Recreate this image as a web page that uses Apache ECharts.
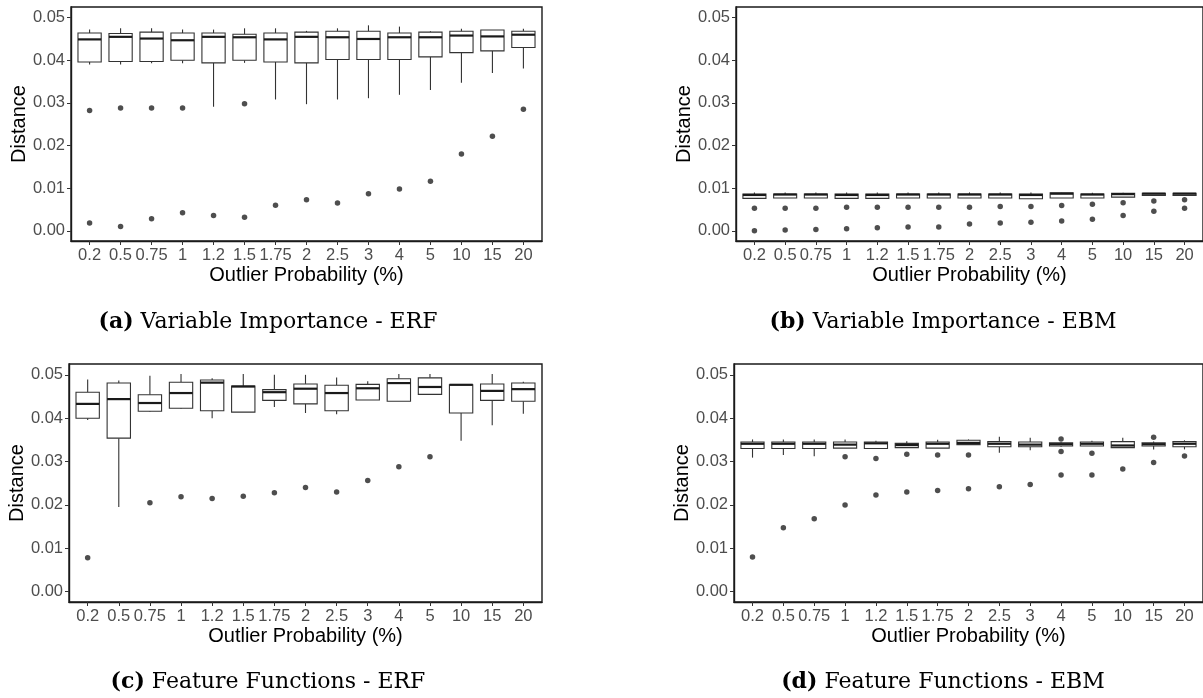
<!DOCTYPE html>
<html>
<head>
<meta charset="utf-8">
<script src="https://cdn.jsdelivr.net/npm/echarts@6/dist/echarts.min.js"></script>
<style>
html,body{margin:0;padding:0;background:#fff;}
#c{width:1203px;height:698px;}
</style>
</head>
<body>
<div id="c"></div>
<script>
const categories = ['0.2','0.5','0.75','1','1.2','1.5','1.75','2','2.5','3','4','5','10','15','20'];
const yTicks = [0, 0.01, 0.02, 0.03, 0.04, 0.05];

// (a) Variable Importance - ERF
const viErfMin = [0.0390,0.0390,0.0393,0.0393,0.0291,0.0394,0.0308,0.0297,0.0308,0.0311,0.0319,0.0330,0.0347,0.0370,0.0381];
const viErfQ1  = [0.0396,0.0397,0.0397,0.0400,0.0394,0.0400,0.0396,0.0394,0.0402,0.0402,0.0402,0.0408,0.0418,0.0422,0.0430];
const viErfMed = [0.0449,0.0455,0.0451,0.0447,0.0455,0.0454,0.0449,0.0455,0.0454,0.0450,0.0454,0.0454,0.0458,0.0456,0.0460];
const viErfQ3  = [0.0464,0.0463,0.0466,0.0464,0.0464,0.0461,0.0464,0.0466,0.0468,0.0468,0.0464,0.0466,0.0468,0.0471,0.0468];
const viErfMax = [0.0472,0.0475,0.0475,0.0472,0.0472,0.0475,0.0475,0.0469,0.0475,0.0482,0.0479,0.0468,0.0474,0.0471,0.0474];
const viErfOutliers = [[0,0.0282],[0,0.0018],[1,0.0288],[1,0.0010],[2,0.0288],[2,0.0028],[3,0.0288],[3,0.0042],[4,0.0036],[5,0.0298],[5,0.0032],[6,0.0060],[7,0.0073],[8,0.0065],[9,0.0087],[10,0.0098],[11,0.0116],[12,0.0180],[13,0.0222],[14,0.0285]];

// (b) Variable Importance - EBM
const viEbmMin = [0.0076,0.0077,0.0077,0.0076,0.0076,0.0077,0.0077,0.0077,0.0077,0.0075,0.0077,0.0077,0.0079,0.0082,0.0082];
const viEbmQ1  = [0.0076,0.0077,0.0077,0.0076,0.0076,0.0077,0.0077,0.0077,0.0077,0.0075,0.0077,0.0077,0.0079,0.0083,0.0083];
const viEbmMed = [0.0084,0.0085,0.0085,0.0084,0.0084,0.0085,0.0085,0.0085,0.0085,0.0084,0.0087,0.0085,0.0086,0.0087,0.0087];
const viEbmQ3  = [0.0086,0.0086,0.0086,0.0086,0.0086,0.0086,0.0086,0.0086,0.0086,0.0086,0.0089,0.0086,0.0088,0.0088,0.0088];
const viEbmMax = [0.0090,0.0090,0.0090,0.0090,0.0090,0.0090,0.0090,0.0090,0.0090,0.0090,0.0090,0.0089,0.0089,0.0088,0.0088];
const viEbmOutliers = [[0,0.0053],[0,0.0000],[1,0.0053],[1,0.0002],[2,0.0053],[2,0.0003],[3,0.0055],[3,0.0005],[4,0.0055],[4,0.0007],[5,0.0055],[5,0.0009],[6,0.0055],[6,0.0009],[7,0.0055],[7,0.0016],[8,0.0057],[8,0.0018],[9,0.0057],[9,0.0020],[10,0.0059],[10,0.0023],[11,0.0062],[11,0.0027],[12,0.0066],[12,0.0036],[13,0.0070],[13,0.0046],[14,0.0073],[14,0.0053]];

// (c) Feature Functions - ERF
const ffErfMin = [0.0396,0.0195,0.0414,0.0421,0.0400,0.0414,0.0426,0.0412,0.0409,0.0442,0.0439,0.0455,0.0348,0.0384,0.0410];
const ffErfQ1  = [0.0400,0.0354,0.0416,0.0423,0.0417,0.0414,0.0441,0.0433,0.0417,0.0442,0.0439,0.0455,0.0412,0.0441,0.0439];
const ffErfMed = [0.0433,0.0444,0.0435,0.0458,0.0482,0.0473,0.0460,0.0468,0.0458,0.0469,0.0481,0.0472,0.0477,0.0463,0.0467];
const ffErfQ3  = [0.0460,0.0481,0.0454,0.0483,0.0488,0.0474,0.0466,0.0479,0.0476,0.0478,0.0491,0.0493,0.0477,0.0479,0.0481];
const ffErfMax = [0.0489,0.0487,0.0498,0.0502,0.0492,0.0502,0.0500,0.0500,0.0494,0.0485,0.0502,0.0502,0.0479,0.0502,0.0484];
const ffErfOutliers = [[0,0.0078],[2,0.0205],[3,0.0219],[4,0.0215],[5,0.0220],[6,0.0228],[7,0.0240],[8,0.0230],[9,0.0256],[10,0.0288],[11,0.0311]];

// (d) Feature Functions - EBM
const ffEbmMin = [0.0309,0.0315,0.0312,0.0331,0.0330,0.0332,0.0331,0.0339,0.0320,0.0326,0.0334,0.0336,0.0332,0.0328,0.0328];
const ffEbmQ1  = [0.0330,0.0330,0.0330,0.0331,0.0330,0.0332,0.0331,0.0339,0.0334,0.0334,0.0336,0.0336,0.0332,0.0336,0.0334];
const ffEbmMed = [0.0341,0.0341,0.0341,0.0339,0.0342,0.0338,0.0341,0.0343,0.0341,0.0339,0.0340,0.0341,0.0337,0.0340,0.0341];
const ffEbmQ3  = [0.0345,0.0345,0.0345,0.0345,0.0345,0.0342,0.0345,0.0349,0.0346,0.0345,0.0343,0.0345,0.0346,0.0343,0.0346];
const ffEbmMax = [0.0351,0.0351,0.0351,0.0351,0.0348,0.0347,0.0350,0.0351,0.0357,0.0355,0.0345,0.0348,0.0355,0.0346,0.0349];
const ffEbmOutliers = [[0,0.0080],[1,0.0147],[2,0.0168],[3,0.0311],[3,0.0200],[4,0.0307],[4,0.0223],[5,0.0317],[5,0.0230],[6,0.0315],[6,0.0233],[7,0.0315],[7,0.0237],[8,0.0242],[9,0.0247],[10,0.0352],[10,0.0323],[10,0.0269],[11,0.0319],[11,0.0269],[12,0.0283],[13,0.0356],[13,0.0298],[14,0.0313]];

const captions = [
  ['(a)', 'Variable Importance - ERF'],
  ['(b)', 'Variable Importance - EBM'],
  ['(c)', 'Feature Functions - ERF'],
  ['(d)', 'Feature Functions - EBM']
];

const panels = [
  {mins: viErfMin, q1: viErfQ1, med: viErfMed, q3: viErfQ3, maxs: viErfMax, out: viErfOutliers},
  {mins: viEbmMin, q1: viEbmQ1, med: viEbmMed, q3: viEbmQ3, maxs: viEbmMax, out: viEbmOutliers},
  {mins: ffErfMin, q1: ffErfQ1, med: ffErfMed, q3: ffErfQ3, maxs: ffErfMax, out: ffErfOutliers},
  {mins: ffEbmMin, q1: ffEbmQ1, med: ffEbmMed, q3: ffEbmQ3, maxs: ffEbmMax, out: ffEbmOutliers}
];

const grids = [
  {left: 71, top: 7, width: 471, height: 234},
  {left: 736, top: 7, width: 471, height: 234},
  {left: 69, top: 364, width: 473, height: 238},
  {left: 734, top: 364, width: 473, height: 238}
];
const captionPos = [[268, 311], [943, 311], [268, 671], [943, 671]];

const SANS = "'Liberation Sans', Arial, sans-serif";
const LINE = '#333333';

function renderBox(params, api) {
  const x = api.value(0);
  const pMin = api.coord([x, api.value(1)]);
  const pQ1 = api.coord([x, api.value(2)]);
  const pMed = api.coord([x, api.value(3)]);
  const pQ3 = api.coord([x, api.value(4)]);
  const pMax = api.coord([x, api.value(5)]);
  const bw = api.size([1, 0])[0] * 0.75;
  const cx = pMed[0];
  return {
    type: 'group',
    children: [
      {type: 'line', shape: {x1: cx, y1: pMax[1], x2: cx, y2: pQ3[1]}, style: {stroke: LINE, lineWidth: 1.1}},
      {type: 'line', shape: {x1: cx, y1: pQ1[1], x2: cx, y2: pMin[1]}, style: {stroke: LINE, lineWidth: 1.1}},
      {type: 'rect', shape: {x: cx - bw / 2, y: pQ3[1], width: bw, height: pQ1[1] - pQ3[1]}, style: {fill: '#ffffff', stroke: LINE, lineWidth: 1.1}},
      {type: 'line', shape: {x1: cx - bw / 2, y1: pMed[1], x2: cx + bw / 2, y2: pMed[1]}, style: {stroke: '#1a1a1a', lineWidth: 2.2}}
    ]
  };
}

const option = {
  animation: false,
  backgroundColor: '#ffffff',
  title: captions.map((c, i) => ({
    text: '{b|' + c[0] + '} ' + c[1],
    left: captionPos[i][0],
    top: captionPos[i][1],
    textAlign: 'center',
    padding: 0,
    textStyle: {
      fontFamily: "'DejaVu Serif', serif",
      fontSize: 22,
      fontWeight: 'normal',
      color: '#000',
      rich: {b: {fontFamily: "'DejaVu Serif', serif", fontSize: 22, fontWeight: 'bold', color: '#000'}}
    }
  })),
  grid: grids.map(g => Object.assign({show: true, borderColor: '#1a1a1a', borderWidth: 1.4, backgroundColor: '#fff', containLabel: false}, g)),
  xAxis: grids.map((g, i) => ({
    type: 'value', gridIndex: i, min: -0.6, max: 14.6,
    name: 'Outlier Probability (%)', nameLocation: 'middle', nameGap: 24,
    nameTextStyle: {fontFamily: SANS, fontSize: 20, color: '#000'},
    axisLine: {show: true, onZero: false, lineStyle: {color: '#1a1a1a', width: 1.4}},
    axisTick: {show: true, length: 4, customValues: categories.map((c, k) => k), lineStyle: {color: LINE}},
    axisLabel: {show: true, customValues: categories.map((c, k) => k), margin: 6, fontFamily: SANS, fontSize: 16.5, color: '#4d4d4d',
      formatter: v => categories[Math.round(v)]},
    splitLine: {show: false}
  })),
  yAxis: grids.map((g, i) => ({
    type: 'value', gridIndex: i, min: -0.0024, max: 0.0525,
    name: 'Distance', nameLocation: 'middle', nameGap: 42,
    nameTextStyle: {fontFamily: SANS, fontSize: 20, color: '#000'},
    axisLine: {show: true, onZero: false, lineStyle: {color: '#1a1a1a', width: 1.4}},
    axisTick: {show: true, length: 4, customValues: yTicks, lineStyle: {color: LINE}},
    axisLabel: {show: true, customValues: yTicks, margin: 6, fontFamily: SANS, fontSize: 16.5, color: '#4d4d4d',
      formatter: v => v.toFixed(2)},
    splitLine: {show: false}
  })),
  series: []
};

panels.forEach((p, i) => {
  option.series.push({
    type: 'custom', xAxisIndex: i, yAxisIndex: i,
    renderItem: renderBox,
    encode: {x: 0, y: [1, 2, 3, 4, 5]},
    data: categories.map((c, k) => [k, p.mins[k], p.q1[k], p.med[k], p.q3[k], p.maxs[k]]),
    z: 2
  });
  option.series.push({
    type: 'scatter', xAxisIndex: i, yAxisIndex: i,
    symbol: 'circle', symbolSize: 5.5,
    itemStyle: {color: '#222222'},
    data: p.out,
    z: 3
  });
});

const chart = echarts.init(document.getElementById('c'), null, {renderer: 'canvas'});
chart.setOption(option);
</script>
</body>
</html>
